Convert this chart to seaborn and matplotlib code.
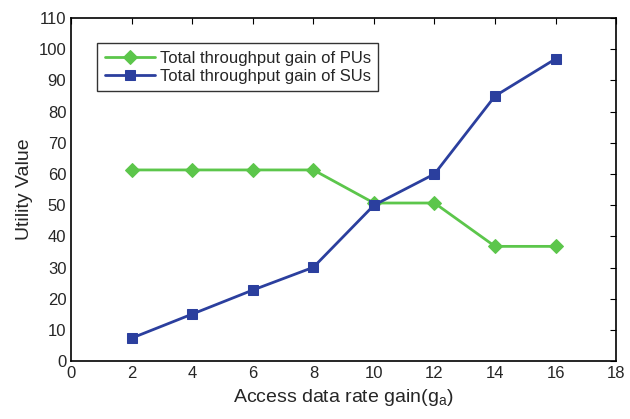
import matplotlib
matplotlib.use('Agg')
import matplotlib.pyplot as plt
import seaborn as sns
import pandas as pd

gain = [2, 4, 6, 8, 10, 12, 14, 16]
pu_gain = [61.3, 61.3, 61.3, 61.3, 50.7, 50.7, 36.8, 36.8]
su_gain = [7.4, 15.1, 22.8, 30.1, 50.0, 60.0, 85.0, 96.9]

sns.set_style('white')
plt.rcParams['font.family'] = ['Liberation Sans', 'DejaVu Sans']
plt.rcParams['mathtext.default'] = 'regular'

df = pd.DataFrame({'gain': gain, 'pu': pu_gain, 'su': su_gain})

fig, ax = plt.subplots(figsize=(6.3, 4.19), dpi=100)
sns.lineplot(data=df, x='gain', y='pu', ax=ax, color='#5cc64b', marker='D',
             markersize=7.5, linewidth=2, markeredgecolor='#5cc64b',
             label='Total throughput gain of PUs')
sns.lineplot(data=df, x='gain', y='su', ax=ax, color='#2b3f9e', marker='s',
             markersize=7, linewidth=2, markeredgecolor='#2b3f9e',
             label='Total throughput gain of SUs')

ax.set_xlim(0, 18)
ax.set_ylim(0, 110)
ax.set_xticks(range(0, 19, 2))
ax.set_yticks(range(0, 111, 10))
ax.tick_params(direction='in', top=True, right=True, length=4, width=0.8,
               labelsize=12, color='black')
for s in ax.spines.values():
    s.set_color('black')
    s.set_linewidth(1.2)
ax.set_xlabel('Access data rate gain(g$_a$)', fontsize=14)
ax.set_ylabel('Utility Value', fontsize=14)

leg = ax.legend(loc='upper left', bbox_to_anchor=(0.048, 0.927), fontsize=12,
                frameon=True, fancybox=False, edgecolor='black',
                borderpad=0.45, labelspacing=0.2, handlelength=3.0,
                handletextpad=0.3, borderaxespad=0)
leg.get_frame().set_linewidth(1.0)

plt.subplots_adjust(left=0.113, right=0.978, top=0.957, bottom=0.138)
plt.savefig('out.png', dpi=100)
